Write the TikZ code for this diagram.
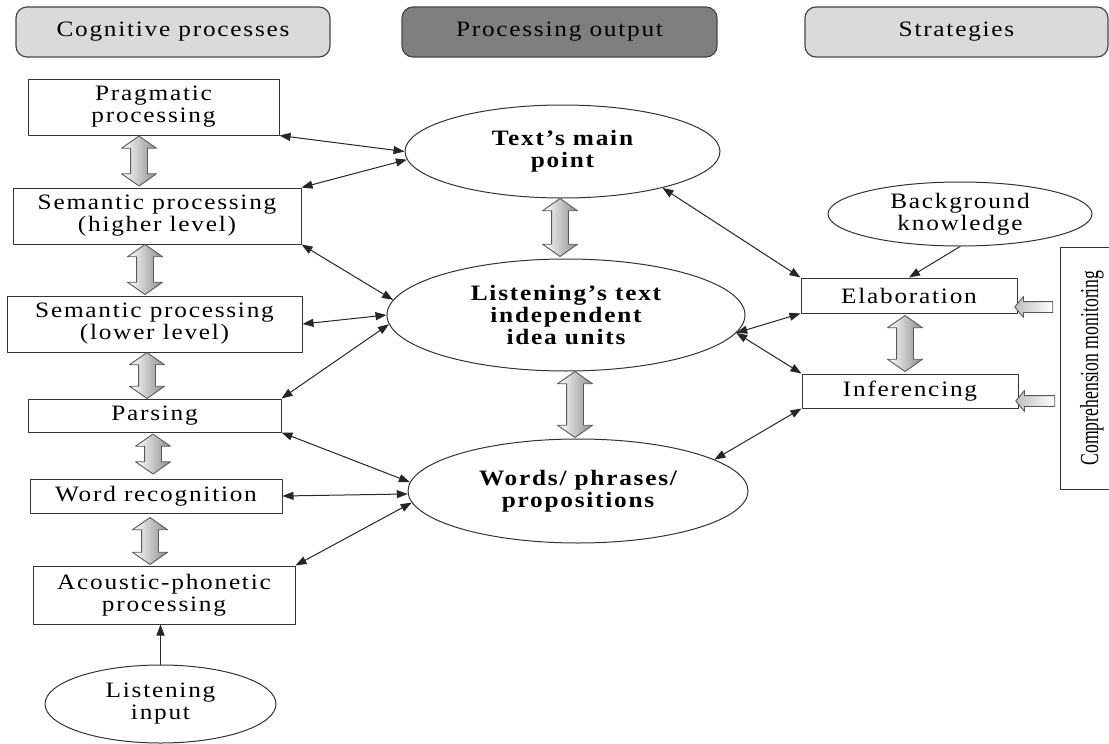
\documentclass[tikz,border=0pt]{standalone}
\usepackage{fontspec}
\setmainfont{Liberation Serif}[FakeStretch=1.15,LetterSpace=8]
\newfontfamily\monitorfont{Liberation Serif}[FakeStretch=0.68]
\usetikzlibrary{arrows.meta}
\usetikzlibrary{shapes.geometric}
\usetikzlibrary{shapes.arrows}
\definecolor{lightfill}{RGB}{218,218,218}
\definecolor{darkfill}{RGB}{127,127,127}
\definecolor{rimgray}{RGB}{70,70,70}

\begin{document}
\begin{tikzpicture}[line cap=round,line join=round,>={Triangle[length=11pt,width=8pt]},x=1pt,y=-1pt,
  header/.style={draw=rimgray,line width=1.2pt,rounded corners=11pt,minimum height=50pt,font=\fontsize{22}{22}\selectfont},
  procbox/.style={draw=black!80,line width=1pt,align=center,inner ysep=2pt,font=\fontsize{22}{22}\selectfont},
  outcome/.style={ellipse,draw=black!80,line width=1pt,align=center,inner sep=0pt,font=\bfseries\fontsize{22}{22}\selectfont},
  source/.style={ellipse,draw=black!80,line width=1pt,align=center,inner sep=0pt,font=\fontsize{22}{22}\selectfont},
  link/.style={<->,line width=1pt,draw=black!85},
  feed/.style={->,line width=1pt,draw=black!85},
  updown/.style={double arrow,draw=black!65,line width=0.9pt,inner sep=0pt,inner ysep=8pt,minimum width=0pt,double arrow head extend=9pt,double arrow tip angle=110,rotate=-90,left color=white,right color=black!45},
  pointer/.style={single arrow,draw=black!65,line width=0.9pt,inner sep=0pt,inner ysep=5pt,minimum width=0pt,single arrow head extend=5pt,single arrow tip angle=100,rotate=180,left color=black!25,right color=white}]
\useasboundingbox (0,0) rectangle (1109,744);
% column headings
\node[header,fill=lightfill,minimum width=314] (hcog) at (173,32) {Cognitive processes};
\node[header,fill=darkfill,minimum width=315] (hout) at (559.5,32) {Processing output};
\node[header,fill=lightfill,minimum width=303] (hstrat) at (956.5,32) {Strategies};
%
% cognitive processes
\node[procbox,minimum width=251,minimum height=56] (prag) at (153.5,107) {Pragmatic\\processing};
\node[procbox,minimum width=288,minimum height=56] (semhi) at (157,216) {Semantic processing\\(higher level)};
\node[procbox,minimum width=295,minimum height=56] (semlo) at (154.5,324) {Semantic processing\\(lower level)};
\node[procbox,minimum width=253,minimum height=33] (pars) at (154.5,415.5) {Parsing};
\node[procbox,minimum width=252,minimum height=34] (word) at (156,496) {Word recognition};
\node[procbox,minimum width=262,minimum height=58] (acou) at (164,595) {Acoustic-phonetic\\processing};
\node[source,minimum width=231,minimum height=78] (input) at (160.5,704) {Listening\\input};
%
% processing output
\node[outcome,minimum width=315,minimum height=93] (main) at (562.5,151.5) {Text’s main\\point};
\node[outcome,minimum width=358,minimum height=112] (units) at (566,315) {Listening’s text\\independent\\idea units};
\node[outcome,minimum width=340,minimum height=104] (words) at (578,491) {Words/ phrases/\\propositions};
%
% strategies
\node[source,minimum width=264,minimum height=64] (know) at (960,214) {Background\\knowledge};
\node[procbox,minimum width=216,minimum height=35] (elab) at (909,295.5) {Elaboration};
\node[procbox,minimum width=216,minimum height=34] (infer) at (910,391) {Inferencing};
\node[procbox,rotate=90,minimum width=242,minimum height=64,font=\monitorfont\fontsize{26}{26}\selectfont] (monitor) at (1092,368) {Comprehension monitoring};
%
% block arrows
\node[updown,minimum height=50] (a1) at (139,161) {};
\node[updown,minimum height=50] (a2) at (145,269.5) {};
\node[updown,minimum height=46] (a3) at (147,375.5) {};
\node[updown,minimum height=40] (a4) at (153,454) {};
\node[updown,minimum height=47] (a5) at (150,541) {};
\node[updown,minimum height=58] (b1) at (560,227.5) {};
\node[updown,minimum height=66] (b2) at (575,404.5) {};
\node[updown,minimum height=56] (c1) at (905,343.5) {};
\node[pointer,minimum height=38] (p1) at (1036,307) {};
\node[pointer,minimum height=39] (p2) at (1037.5,401) {};
%
% links
\draw[link] (prag.south east) -- (main.180);
\draw[link] (semhi.north east) -- (main.183);
\draw[link] (semhi.south east) -- (units.175);
\draw[link] (semlo.east) -- (units.180);
\draw[link] (pars.north east) -- (units.183);
\draw[link] (pars.south east) -- (words.177);
\draw[link] (word.east) -- (words.181);
\draw[link] (acou.north east) -- (words.184);
\draw[feed] (input.north) -- (input.north |- acou.south);
\draw[link] (main.-20) -- (elab.north west);
\draw[link] (units.-6) -- (elab.south west);
\draw[link] (units.-6) -- (infer.north west);
\draw[link] (words.13) -- (infer.south west);
\draw[feed] (know.south) -- (elab.north);
\end{tikzpicture}
\end{document}
